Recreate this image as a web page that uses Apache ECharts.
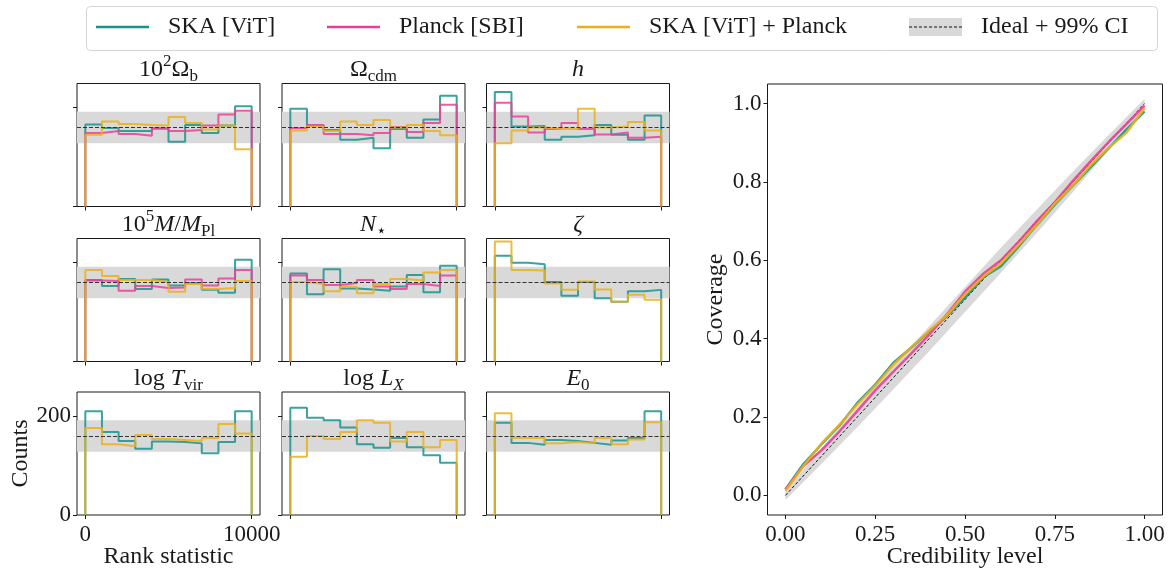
<!DOCTYPE html>
<html>
<head>
<meta charset="utf-8">
<script src="https://cdn.jsdelivr.net/npm/echarts@6/dist/echarts.min.js"></script>
<style>
  html, body { margin: 0; padding: 0; background: #fff; }
  #chart { width: 1171px; height: 570px; }
</style>
</head>
<body>
<div id="chart"></div>
<script>
// rank histograms: 10 bins over [0, 10000]
const binStarts = [0, 1000, 2000, 3000, 4000, 5000, 6000, 7000, 8000, 9000]
const rankMax = 10000
const rankTicks = [0, 10000]
const countTicks = [0, 200]
const idealCount = 160
const ciLow = 128
const ciHigh = 192

const omegaBSka = [166, 159, 153, 153, 158, 131, 165, 149, 164, 203]
const omegaBPlanck = [149, 153, 147, 143, 158, 153, 155, 164, 186, 194]
const omegaBJoint = [145, 172, 167, 165, 164, 181, 169, 156, 164, 116]

const omegaCdmSka = [198, 164, 155, 135, 139, 118, 157, 139, 176, 224]
const omegaCdmPlanck = [159, 165, 147, 147, 144, 149, 161, 151, 169, 206]
const omegaCdmJoint = [154, 162, 153, 172, 165, 175, 160, 165, 153, 144]

const hSka = [232, 162, 163, 135, 141, 144, 165, 145, 135, 184]
const hPlanck = [210, 182, 150, 157, 169, 157, 146, 150, 139, 141]
const hJoint = [128, 154, 160, 157, 157, 198, 160, 162, 171, 154]

const massSka = [165, 153, 167, 147, 166, 154, 159, 145, 139, 206]
const massPlanck = [164, 163, 143, 153, 149, 150, 166, 154, 168, 185]
const massJoint = [185, 173, 165, 165, 161, 141, 157, 147, 149, 163]

const nStarSka = [178, 136, 187, 148, 146, 143, 152, 175, 140, 194]
const nStarPlanck = [174, 165, 155, 159, 165, 152, 147, 157, 153, 174]
const nStarJoint = [161, 157, 142, 151, 138, 157, 167, 164, 180, 185]

const zetaSka = [214, 200, 197, 161, 133, 161, 128, 121, 142, 145]
const zetaJoint = [243, 185, 184, 158, 145, 162, 146, 121, 135, 125]

const tVirSka = [210, 168, 150, 134, 149, 148, 145, 125, 148, 210]
const tVirJoint = [176, 143, 139, 162, 154, 152, 150, 156, 184, 165]

const lxSka = [217, 197, 192, 177, 143, 136, 156, 137, 121, 106]
const lxJoint = [118, 160, 154, 168, 192, 187, 149, 168, 137, 152]

const e0Ska = [187, 146, 142, 152, 150, 146, 142, 151, 156, 210]
const e0Joint = [206, 156, 156, 145, 148, 145, 156, 143, 153, 188]

// coverage curves
const credLevels = [0, 0.05, 0.1, 0.15, 0.2, 0.25, 0.3, 0.35, 0.4, 0.45, 0.5,
  0.55, 0.6, 0.65, 0.7, 0.75, 0.8, 0.85, 0.9, 0.95, 1]
const coverageSka = [0.015, 0.08, 0.13, 0.178, 0.236, 0.283, 0.338, 0.377, 0.418, 0.458, 0.505,
  0.556, 0.585, 0.636, 0.69, 0.742, 0.79, 0.838, 0.886, 0.934, 0.98]
const coveragePlanck = [0.015, 0.075, 0.115, 0.163, 0.215, 0.268, 0.315, 0.362, 0.41, 0.462, 0.52,
  0.565, 0.6, 0.648, 0.7, 0.748, 0.802, 0.853, 0.902, 0.948, 0.995]
const coverageJoint = [0.012, 0.075, 0.132, 0.18, 0.232, 0.28, 0.333, 0.378, 0.42, 0.46, 0.513,
  0.558, 0.592, 0.64, 0.69, 0.745, 0.79, 0.843, 0.887, 0.926, 0.988]
const idealLine = [[0, 0], [1, 1]]
const ciLevels = [0, 0.1, 0.2, 0.3, 0.4, 0.5, 0.6, 0.7, 0.8, 0.9, 1]
const ciHalfWidth = [0.012, 0.02, 0.026, 0.03, 0.032, 0.032, 0.032, 0.03, 0.026, 0.02, 0.012]
const credTicks = [0, 0.25, 0.5, 0.75, 1]
const coverageTicks = [0, 0.2, 0.4, 0.6, 0.8, 1]

const NAME_SKA = 'SKA [ViT]'
const NAME_PLANCK = 'Planck [SBI]'
const NAME_JOINT = 'SKA [ViT] + Planck'
const NAME_IDEAL = 'Ideal + 99% CI'

const panels = [
  { title: '{r|10}{sup|2}{r|Ω}{sub|b}', ska: omegaBSka, planck: omegaBPlanck, joint: omegaBJoint },
  { title: '{r|Ω}{sub|cdm}', ska: omegaCdmSka, planck: omegaCdmPlanck, joint: omegaCdmJoint },
  { title: '{i|h}', ska: hSka, planck: hPlanck, joint: hJoint },
  { title: '{r|10}{sup|5}{i|M}{r|/}{i|M}{sub|Pl}', ska: massSka, planck: massPlanck, joint: massJoint },
  { title: '{i|N}{sub|⋆}', ska: nStarSka, planck: nStarPlanck, joint: nStarJoint },
  { title: '{i|ζ}', ska: zetaSka, joint: zetaJoint },
  { title: '{r|log }{i|T}{sub|vir}', ska: tVirSka, joint: tVirJoint },
  { title: '{r|log }{i|L}{subi|X}', ska: lxSka, joint: lxJoint },
  { title: '{i|E}{sub|0}', ska: e0Ska, joint: e0Joint }
]

const FONT = '"Liberation Serif", "DejaVu Serif", serif'
const INK = '#1a1a1a'
const TEAL = '#17938d'
const PINK = '#ea3f96'
const YELLOW = '#ebb017'
const BAND = '#d9d9d9'

const colLeft = [77, 282, 486.5]
const rowTop = [83.5, 238.5, 392]
const panelW = 183
const panelH = 123

const tok = (size, extra) => Object.assign(
  { fontFamily: FONT, fontSize: size, fontWeight: 'normal', color: INK, lineHeight: 34 }, extra)
const richTitle = {
  r: tok(24),
  i: tok(24, { fontStyle: 'italic' }),
  sup: tok(17, { padding: [0, 0, 16, 0] }),
  sub: tok(17, { padding: [14, 0, 0, 0] }),
  subi: tok(17, { fontStyle: 'italic', padding: [14, 0, 0, 0] })
}

function stepData(counts) {
  const pts = [[binStarts[0], 0]]
  counts.forEach((c, i) => pts.push([binStarts[i], c]))
  pts.push([rankMax, 0])
  return pts
}

function histSeries(name, color, counts, idx, withRef) {
  const s = {
    name,
    type: 'line',
    xAxisIndex: idx,
    yAxisIndex: idx,
    step: 'end',
    symbol: 'none',
    color,
    lineStyle: { color, width: 2, opacity: 0.85 },
    data: stepData(counts),
    silent: true
  }
  if (withRef) {
    s.markArea = {
      silent: true,
      itemStyle: { color: BAND },
      data: [[{ yAxis: ciLow }, { yAxis: ciHigh }]]
    }
    s.markLine = {
      silent: true,
      symbol: 'none',
      label: { show: false },
      lineStyle: { color: '#333', type: [4, 2], width: 1 },
      data: [{ yAxis: idealCount }]
    }
  }
  return s
}

const nameStyle = { fontFamily: FONT, fontSize: 24, color: INK }
const labelStyle = { fontFamily: FONT, fontSize: 23, color: INK }

const grids = []
const xAxes = []
const yAxes = []
const series = []
const titles = []

panels.forEach((p, i) => {
  const row = Math.floor(i / 3)
  const col = i % 3
  const corner = i === 6
  grids.push({
    left: colLeft[col], top: rowTop[row], width: panelW, height: panelH,
    containLabel: false, outerBoundsMode: 'none',
    show: true, borderColor: INK, borderWidth: 1
  })
  xAxes.push({
    type: 'value', gridIndex: i, min: -500, max: 10500,
    splitLine: { show: false },
    axisLine: { show: false, onZero: false },
    axisTick: { show: true, customValues: rankTicks, length: 4, lineStyle: { color: INK } },
    axisLabel: Object.assign({
      show: corner, customValues: rankTicks, formatter: v => String(v), margin: 8
    }, labelStyle),
    name: corner ? 'Rank statistic' : '',
    nameLocation: 'middle', nameGap: 30, nameMoveOverlap: false,
    nameTextStyle: nameStyle
  })
  yAxes.push({
    type: 'value', gridIndex: i, min: 0, max: 249,
    splitLine: { show: false },
    axisLine: { show: false, onZero: false },
    axisTick: { show: true, customValues: countTicks, length: 4, lineStyle: { color: INK } },
    axisLabel: Object.assign({ show: corner, customValues: countTicks, margin: 6 }, labelStyle),
    name: corner ? 'Counts' : '',
    nameLocation: 'middle', nameGap: 43, nameRotate: 90,
    nameTextStyle: nameStyle
  })
  series.push(histSeries(NAME_SKA, TEAL, p.ska, i, true))
  if (p.planck) series.push(histSeries(NAME_PLANCK, PINK, p.planck, i, false))
  series.push(histSeries(NAME_JOINT, YELLOW, p.joint, i, false))
  titles.push({
    text: p.title,
    left: colLeft[col] + panelW / 2,
    top: rowTop[row] - 30.5,
    textAlign: 'center',
    padding: 0,
    textStyle: { rich: richTitle, fontFamily: FONT, fontSize: 24, fontWeight: 'normal', lineHeight: 34 }
  })
})

// coverage panel
const cov = panels.length
grids.push({
  left: 767.5, top: 84, width: 395, height: 431,
  containLabel: false, outerBoundsMode: 'none',
  show: true, borderColor: INK, borderWidth: 1
})
xAxes.push({
  type: 'value', gridIndex: cov, min: -0.05, max: 1.05,
  splitLine: { show: false },
  axisLine: { show: false, onZero: false },
  axisTick: { show: true, customValues: credTicks, length: 4, lineStyle: { color: INK } },
  axisLabel: Object.assign({ customValues: credTicks, formatter: v => v.toFixed(2), margin: 8 }, labelStyle),
  name: 'Credibility level', nameLocation: 'middle', nameGap: 30, nameMoveOverlap: false,
  nameTextStyle: nameStyle
})
yAxes.push({
  type: 'value', gridIndex: cov, min: -0.05, max: 1.05,
  splitLine: { show: false },
  axisLine: { show: false, onZero: false },
  axisTick: { show: true, customValues: coverageTicks, length: 4, lineStyle: { color: INK } },
  axisLabel: Object.assign({ customValues: coverageTicks, formatter: v => v.toFixed(1), margin: 6 }, labelStyle),
  name: 'Coverage', nameLocation: 'middle', nameGap: 40, nameRotate: 90,
  nameTextStyle: nameStyle
})

// 99% band around the ideal diagonal
series.push({
  name: NAME_IDEAL, type: 'custom', xAxisIndex: cov, yAxisIndex: cov, silent: true,
  color: BAND,
  encode: { x: 0, y: [1, 2] },
  data: ciLevels.map((x, i) => [x, x - ciHalfWidth[i], x + ciHalfWidth[i]]),
  renderItem: (params, api) => {
    if (params.dataIndex !== 0) return
    const upper = ciLevels.map((x, i) => api.coord([x, x + ciHalfWidth[i]]))
    const lower = ciLevels.map((x, i) => api.coord([x, x - ciHalfWidth[i]])).reverse()
    return { type: 'polygon', shape: { points: upper.concat(lower) }, style: { fill: BAND } }
  }
})
series.push({
  name: 'ideal', type: 'line', xAxisIndex: cov, yAxisIndex: cov,
  symbol: 'none', silent: true, lineStyle: { color: '#111', width: 1, type: [3, 2] },
  data: idealLine
})
;[[NAME_SKA, TEAL, coverageSka], [NAME_PLANCK, PINK, coveragePlanck], [NAME_JOINT, YELLOW, coverageJoint]]
  .forEach(([name, color, vals]) => {
    series.push({
      name, type: 'line', xAxisIndex: cov, yAxisIndex: cov, symbol: 'none', silent: true,
      color, lineStyle: { color, width: 2.5, opacity: 0.9 },
      data: credLevels.map((x, i) => [x, vals[i]])
    })
  })

const legendText = { fontFamily: FONT, fontSize: 24, color: INK, padding: [0, 0, 0, 14] }
function legendAt(left, item, h) {
  return {
    left, top: 15, padding: 0, itemWidth: 53, itemHeight: h,
    selectedMode: false, textStyle: legendText, data: [item]
  }
}

const chart = echarts.init(document.getElementById('chart'), null, { renderer: 'canvas' })
chart.setOption({
  animation: false,
  backgroundColor: '#fff',
  title: titles,
  legend: [
    legendAt(96, { name: NAME_SKA, icon: 'rect' }, 2.5),
    legendAt(327, { name: NAME_PLANCK, icon: 'rect' }, 2.5),
    legendAt(577, { name: NAME_JOINT, icon: 'rect' }, 2.5),
    legendAt(909, { name: NAME_IDEAL, icon: 'rect', itemStyle: { color: BAND } }, 18)
  ],
  graphic: [
    {
      type: 'rect', left: 86, top: 6, z: -1,
      shape: { width: 1071, height: 44, r: 4 },
      style: { fill: '#fff', stroke: '#d4d4d4', lineWidth: 1 }
    },
    {
      type: 'line', z: 100,
      shape: { x1: 909, y1: 27, x2: 962, y2: 27 },
      style: { stroke: '#111', lineWidth: 1, lineDash: [3, 2] }
    }
  ],
  grid: grids,
  xAxis: xAxes,
  yAxis: yAxes,
  series
})
</script>
</body>
</html>
